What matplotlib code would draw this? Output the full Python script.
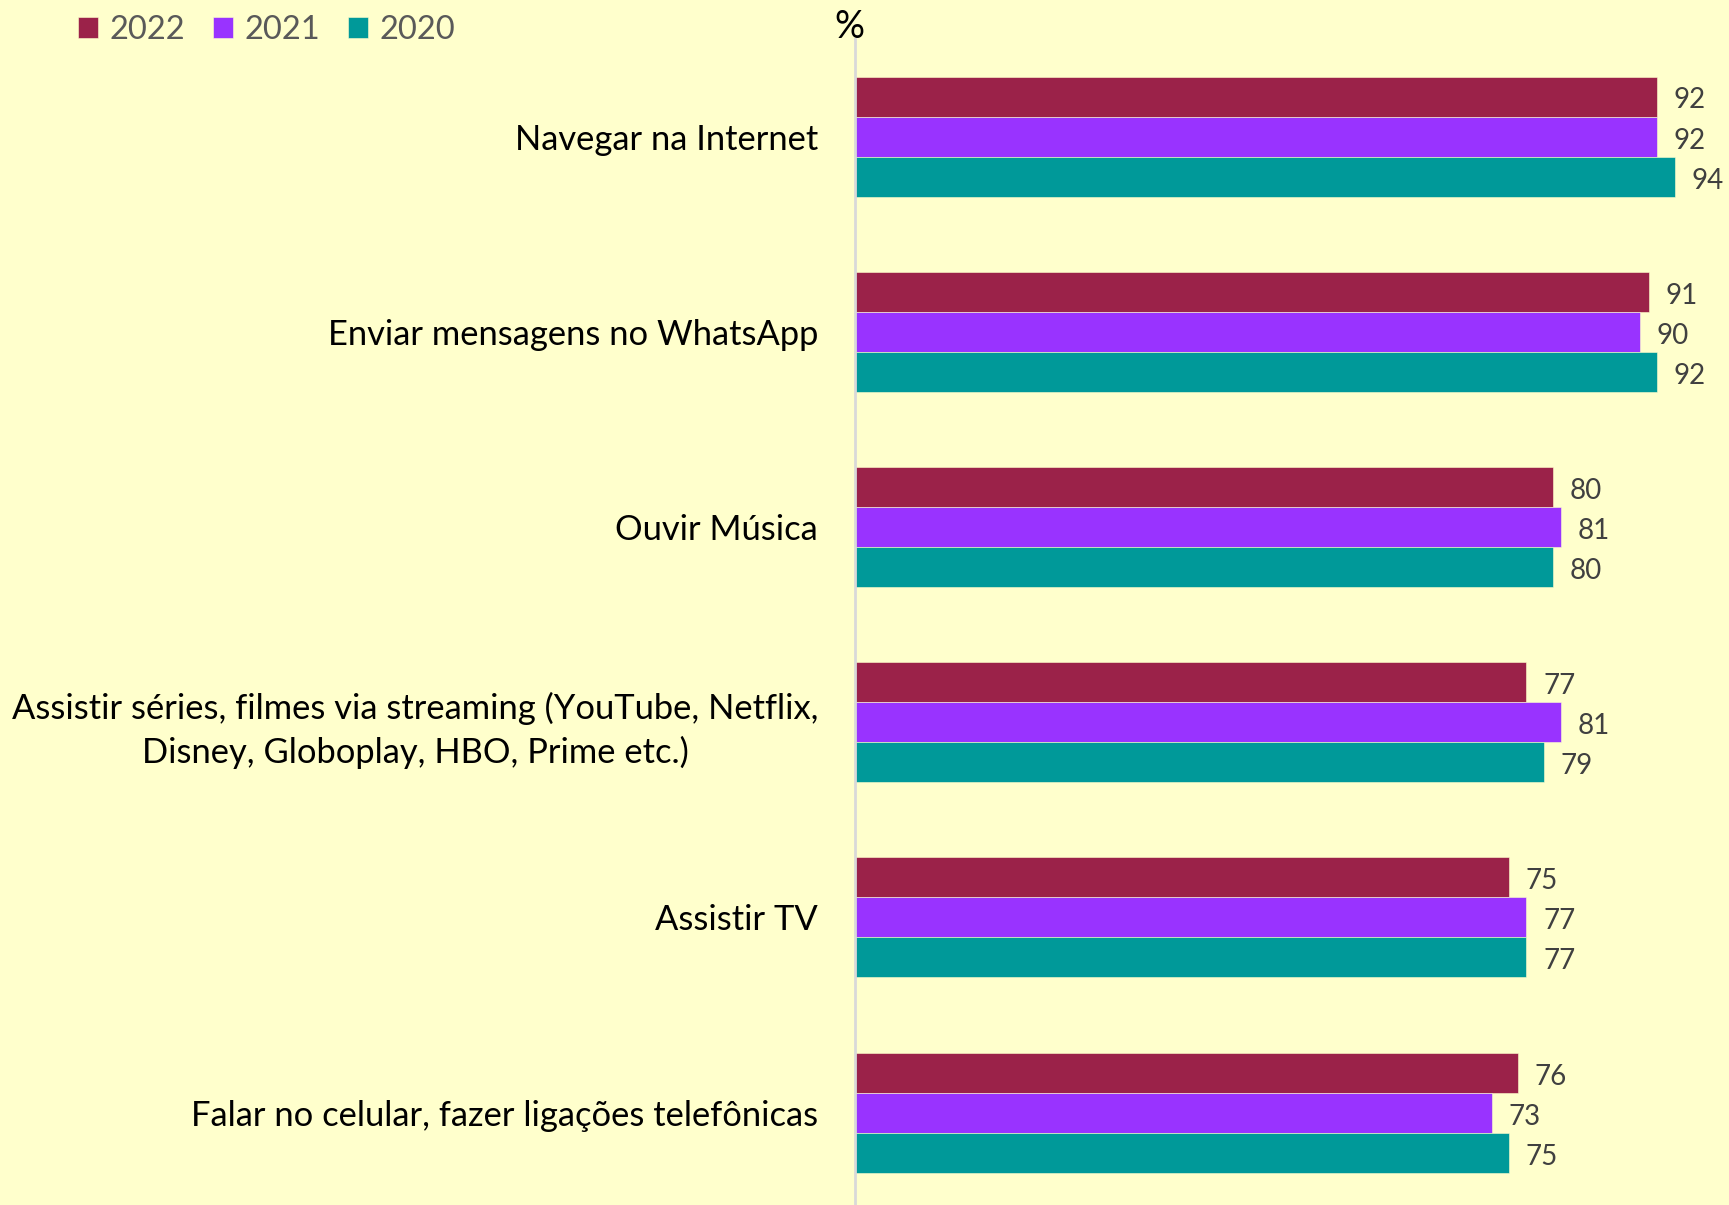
#!/usr/bin/env python3

import numpy as np
import matplotlib
matplotlib.use("Agg")
import matplotlib.pyplot as plt

# data (%)
categories = [
    "Navegar na Internet",
    "Enviar mensagens no WhatsApp",
    "Ouvir Música",
    "Assistir séries, filmes via streaming (YouTube, Netflix,\nDisney, Globoplay, HBO, Prime etc.)",
    "Assistir TV",
    "Falar no celular, fazer ligações telefônicas",
]
years = ["2022", "2021", "2020"]
v2022 = [92, 91, 80, 77, 75, 76]
v2021 = [92, 90, 81, 81, 77, 73]
v2020 = [94, 92, 80, 79, 77, 75]

colors = ["#9B2249", "#9933FF", "#009999"]
bg = "#FFFFCC"

plt.rcParams['font.family'] = ['Lato', 'DejaVu Sans']

W, H, DPI = 1729, 1205, 100
fig = plt.figure(figsize=(W / DPI, H / DPI), dpi=DPI, facecolor=bg)
ax = fig.add_axes([855 / W, 0, 872 / W, (H - 39) / H])
ax.set_facecolor(bg)

y = np.arange(len(categories))
h = 0.205
series = [v2022, v2021, v2020]
for i, (vals, c, lab) in enumerate(zip(series, colors, years)):
    pos = y + (i - 1) * h
    ax.barh(pos, vals, height=h, color=c, label=lab,
            edgecolor=bg, linewidth=0.4)
    for yy, v in zip(pos, vals):
        ax.text(v + 1.9, yy + 0.02, str(v), va='center', ha='left',
                fontsize=20, color='#404040')

ax.set_xlim(0, 100)
ax.set_ylim(5.473, -0.5)
ax.set_yticks(y)
ax.set_yticklabels(categories, fontsize=24.8, color='black',
                   multialignment='center', linespacing=1.38)
ax.tick_params(axis='y', length=0, pad=26.5)
ax.set_xticks([])
for s in ['top', 'right', 'bottom']:
    ax.spines[s].set_visible(False)
ax.spines['left'].set_color('#D9D9D9')
ax.spines['left'].set_linewidth(2)

fig.text(849 / W, 1 - 27 / H, "%", fontsize=27, color='black',
         ha='center', va='center')

leg = fig.legend(loc='center left', bbox_to_anchor=(78 / W, 1 - 30 / H),
                 ncol=3, frameon=False, fontsize=23.5, handlelength=0.62,
                 handleheight=0.62, handletextpad=0.35, columnspacing=0.85,
                 borderaxespad=0, borderpad=0)
for t in leg.get_texts():
    t.set_color('#595959')

fig.savefig("out.png", dpi=DPI, facecolor=bg)
